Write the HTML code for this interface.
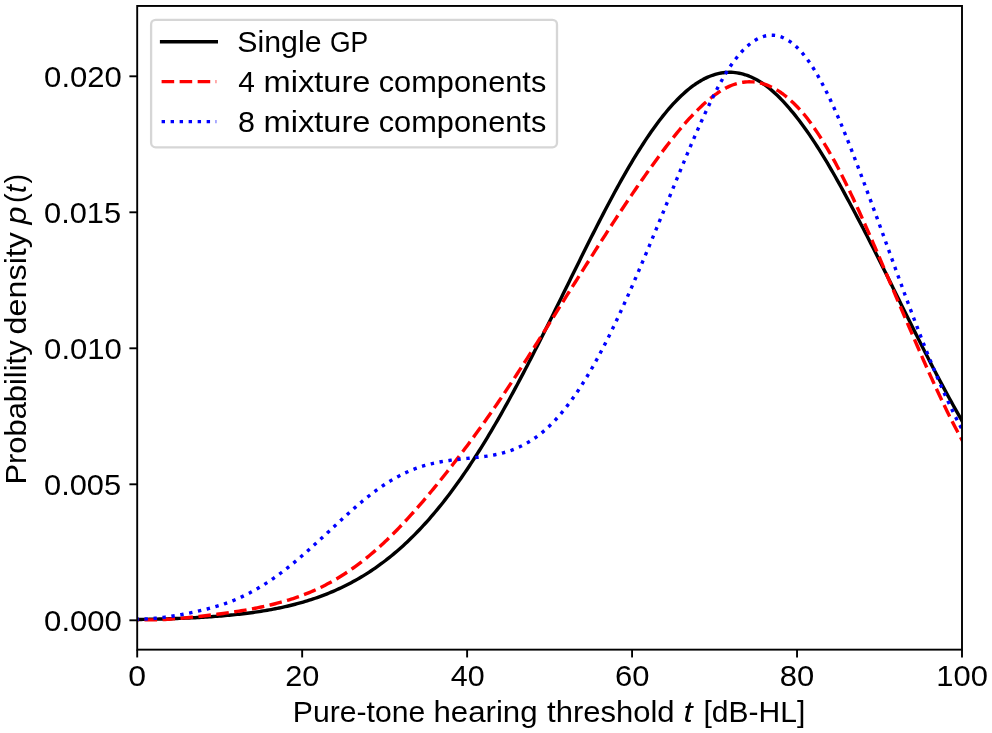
<!DOCTYPE html>
<html lang="en">
<head>
<meta charset="utf-8">
<title>Probability density of pure-tone hearing threshold</title>
<style>
html,body{margin:0;padding:0;background:#fff;}
body{width:992px;height:733px;overflow:hidden;}
svg{display:block;will-change:transform;}
text{font-family:"Liberation Sans",sans-serif;font-size:28.8px;fill:#000;}
.it{font-style:italic;}
.tk{font-size:29.2px;}
.curve{fill:none;stroke-width:3.4;stroke-linejoin:round;}
.tick{stroke:#000;stroke-width:1.9;}
</style>
</head>
<body>
<svg width="992" height="733" viewBox="0 0 992 733">
<rect x="0" y="0" width="992" height="733" fill="#fff"/>
<defs><clipPath id="ax"><rect x="137.2" y="5.95" width="824.80" height="643.70"/></clipPath></defs>
<!-- curves -->
<g clip-path="url(#ax)">
<path class="curve" stroke="#000" stroke-linecap="square" d="M126.5 619.53L137.2 619.53L139.2 619.49L141.2 619.46L143.2 619.42L145.2 619.38L147.2 619.34L149.2 619.30L151.2 619.25L153.2 619.21L155.2 619.16L157.2 619.11L159.2 619.06L161.2 619.00L163.2 618.94L165.2 618.89L167.2 618.83L169.2 618.76L171.2 618.70L173.2 618.63L175.2 618.56L177.2 618.48L179.2 618.41L181.2 618.33L183.2 618.24L185.2 618.16L187.2 618.07L189.2 617.98L191.2 617.88L193.2 617.78L195.2 617.68L197.2 617.57L199.2 617.46L201.2 617.35L203.2 617.23L205.2 617.11L207.2 616.98L209.2 616.85L211.2 616.71L213.2 616.57L215.2 616.42L217.2 616.27L219.2 616.11L221.2 615.95L223.2 615.78L225.2 615.61L227.2 615.43L229.2 615.24L231.2 615.05L233.2 614.85L235.2 614.64L237.2 614.43L239.2 614.21L241.2 613.98L243.2 613.75L245.2 613.51L247.2 613.25L249.2 613.00L251.2 612.73L253.2 612.45L255.2 612.17L257.2 611.88L259.2 611.57L261.2 611.26L263.2 610.94L265.2 610.61L267.2 610.27L269.2 609.91L271.2 609.55L273.2 609.18L275.2 608.79L277.2 608.39L279.2 607.99L281.2 607.56L283.2 607.13L285.2 606.68L287.2 606.22L289.2 605.75L291.2 605.27L293.2 604.77L295.2 604.25L297.2 603.72L299.2 603.18L301.2 602.62L303.2 602.04L305.2 601.45L307.2 600.85L309.2 600.22L311.2 599.58L313.2 598.93L315.2 598.25L317.2 597.56L319.2 596.85L321.2 596.12L323.2 595.37L325.2 594.60L327.2 593.81L329.2 593.00L331.2 592.18L333.2 591.33L335.2 590.46L337.2 589.57L339.2 588.65L341.2 587.72L343.2 586.76L345.2 585.78L347.2 584.77L349.2 583.74L351.2 582.69L353.2 581.61L355.2 580.51L357.2 579.38L359.2 578.23L361.2 577.05L363.2 575.84L365.2 574.61L367.2 573.35L369.2 572.06L371.2 570.75L373.2 569.41L375.2 568.03L377.2 566.63L379.2 565.20L381.2 563.74L383.2 562.25L385.2 560.73L387.2 559.18L389.2 557.60L391.2 555.99L393.2 554.34L395.2 552.67L397.2 550.96L399.2 549.22L401.2 547.44L403.2 545.64L405.2 543.80L407.2 541.92L409.2 540.01L411.2 538.07L413.2 536.09L415.2 534.08L417.2 532.04L419.2 529.96L421.2 527.84L423.2 525.69L425.2 523.50L427.2 521.28L429.2 519.02L431.2 516.72L433.2 514.39L435.2 512.02L437.2 509.62L439.2 507.18L441.2 504.70L443.2 502.19L445.2 499.64L447.2 497.05L449.2 494.43L451.2 491.77L453.2 489.07L455.2 486.34L457.2 483.57L459.2 480.77L461.2 477.93L463.2 475.05L465.2 472.13L467.2 469.18L469.2 466.20L471.2 463.18L473.2 460.12L475.2 457.03L477.2 453.90L479.2 450.74L481.2 447.55L483.2 444.32L485.2 441.06L487.2 437.76L489.2 434.44L491.2 431.08L493.2 427.68L495.2 424.26L497.2 420.81L499.2 417.32L501.2 413.81L503.2 410.26L505.2 406.69L507.2 403.09L509.2 399.46L511.2 395.80L513.2 392.12L515.2 388.41L517.2 384.68L519.2 380.92L521.2 377.14L523.2 373.34L525.2 369.51L527.2 365.66L529.2 361.80L531.2 357.91L533.2 354.01L535.2 350.08L537.2 346.14L539.2 342.19L541.2 338.22L543.2 334.23L545.2 330.24L547.2 326.23L549.2 322.21L551.2 318.18L553.2 314.14L555.2 310.10L557.2 306.04L559.2 301.99L561.2 297.92L563.2 293.86L565.2 289.79L567.2 285.73L569.2 281.66L571.2 277.60L573.2 273.54L575.2 269.48L577.2 265.43L579.2 261.39L581.2 257.35L583.2 253.32L585.2 249.31L587.2 245.31L589.2 241.32L591.2 237.34L593.2 233.38L595.2 229.44L597.2 225.52L599.2 221.62L601.2 217.74L603.2 213.88L605.2 210.05L607.2 206.25L609.2 202.47L611.2 198.72L613.2 194.99L615.2 191.31L617.2 187.65L619.2 184.03L621.2 180.44L623.2 176.89L625.2 173.38L627.2 169.91L629.2 166.48L631.2 163.09L633.2 159.74L635.2 156.44L637.2 153.19L639.2 149.98L641.2 146.82L643.2 143.72L645.2 140.66L647.2 137.66L649.2 134.71L651.2 131.81L653.2 128.98L655.2 126.20L657.2 123.47L659.2 120.81L661.2 118.21L663.2 115.67L665.2 113.20L667.2 110.78L669.2 108.44L671.2 106.16L673.2 103.94L675.2 101.80L677.2 99.72L679.2 97.71L681.2 95.78L683.2 93.91L685.2 92.12L687.2 90.40L689.2 88.76L691.2 87.19L693.2 85.70L695.2 84.28L697.2 82.94L699.2 81.67L701.2 80.48L703.2 79.38L705.2 78.35L707.2 77.40L709.2 76.53L711.2 75.74L713.2 75.03L715.2 74.40L717.2 73.85L719.2 73.38L721.2 73.00L723.2 72.69L725.2 72.47L727.2 72.33L729.2 72.28L731.2 72.30L733.2 72.41L735.2 72.60L737.2 72.87L739.2 73.22L741.2 73.65L743.2 74.17L745.2 74.76L747.2 75.44L749.2 76.20L751.2 77.04L753.2 77.95L755.2 78.95L757.2 80.03L759.2 81.18L761.2 82.43L763.2 83.77L765.2 85.19L767.2 86.69L769.2 88.26L771.2 89.92L773.2 91.65L775.2 93.45L777.2 95.34L779.2 97.30L781.2 99.33L783.2 101.43L785.2 103.61L787.2 105.86L789.2 108.17L791.2 110.53L793.2 112.94L795.2 115.41L797.2 117.94L799.2 120.54L801.2 123.19L803.2 125.91L805.2 128.68L807.2 131.51L809.2 134.40L811.2 137.35L813.2 140.34L815.2 143.39L817.2 146.50L819.2 149.65L821.2 152.85L823.2 156.10L825.2 159.39L827.2 162.73L829.2 166.12L831.2 169.55L833.2 173.01L835.2 176.52L837.2 180.07L839.2 183.65L841.2 187.27L843.2 190.92L845.2 194.61L847.2 198.32L849.2 202.07L851.2 205.81L853.2 209.55L855.2 213.31L857.2 217.10L859.2 220.91L861.2 224.74L863.2 228.59L865.2 232.46L867.2 236.34L869.2 240.25L871.2 244.16L873.2 248.09L875.2 252.04L877.2 255.99L879.2 259.95L881.2 263.93L883.2 267.90L885.2 271.90L887.2 275.96L889.2 280.02L891.2 284.08L893.2 288.15L895.2 292.22L897.2 296.28L899.2 300.34L901.2 304.40L903.2 308.46L905.2 312.51L907.2 316.55L909.2 320.58L911.2 324.60L913.2 328.62L915.2 332.62L917.2 336.61L919.2 340.58L921.2 344.55L923.2 348.49L925.2 352.42L927.2 356.33L929.2 360.23L931.2 364.10L933.2 367.96L935.2 371.79L937.2 375.61L939.2 379.40L941.2 383.16L943.2 386.91L945.2 390.62L947.2 394.32L949.2 397.98L951.2 401.62L953.2 405.24L955.2 408.82L957.2 412.38L959.2 415.90L961.2 419.40L962.0 420.79L973.0 439.88"/>
<path class="curve" stroke="#f00" stroke-dasharray="12.58 5.44" d="M126.5 619.60L137.2 619.60L139.2 619.69L141.2 619.76L143.2 619.81L145.2 619.85L147.2 619.87L149.2 619.88L151.2 619.87L153.2 619.85L155.2 619.81L157.2 619.76L159.2 619.69L161.2 619.62L163.2 619.53L165.2 619.43L167.2 619.31L169.2 619.19L171.2 619.06L173.2 618.92L175.2 618.77L177.2 618.61L179.2 618.44L181.2 618.26L183.2 618.08L185.2 617.89L187.2 617.69L189.2 617.49L191.2 617.28L193.2 617.07L195.2 616.86L197.2 616.64L199.2 616.41L201.2 616.19L203.2 615.96L205.2 615.73L207.2 615.49L209.2 615.25L211.2 615.01L213.2 614.76L215.2 614.51L217.2 614.26L219.2 614.00L221.2 613.73L223.2 613.46L225.2 613.19L227.2 612.91L229.2 612.62L231.2 612.32L233.2 612.02L235.2 611.72L237.2 611.40L239.2 611.08L241.2 610.75L243.2 610.41L245.2 610.07L247.2 609.72L249.2 609.35L251.2 608.98L253.2 608.60L255.2 608.22L257.2 607.82L259.2 607.41L261.2 606.99L263.2 606.56L265.2 606.12L267.2 605.67L269.2 605.21L271.2 604.73L273.2 604.24L275.2 603.74L277.2 603.22L279.2 602.69L281.2 602.14L283.2 601.58L285.2 601.00L287.2 600.41L289.2 599.79L291.2 599.16L293.2 598.51L295.2 597.84L297.2 597.15L299.2 596.44L301.2 595.71L303.2 594.96L305.2 594.19L307.2 593.39L309.2 592.57L311.2 591.73L313.2 590.87L315.2 589.98L317.2 589.06L319.2 588.12L321.2 587.16L323.2 586.16L325.2 585.14L327.2 584.10L329.2 583.02L331.2 581.92L333.2 580.80L335.2 579.64L337.2 578.46L339.2 577.25L341.2 576.01L343.2 574.75L345.2 573.46L347.2 572.14L349.2 570.79L351.2 569.41L353.2 568.01L355.2 566.57L357.2 565.11L359.2 563.62L361.2 562.10L363.2 560.55L365.2 558.97L367.2 557.36L369.2 555.73L371.2 554.06L373.2 552.36L375.2 550.64L377.2 548.88L379.2 547.09L381.2 545.28L383.2 543.43L385.2 541.55L387.2 539.65L389.2 537.72L391.2 535.75L393.2 533.77L395.2 531.75L397.2 529.71L399.2 527.64L401.2 525.55L403.2 523.43L405.2 521.29L407.2 519.13L409.2 516.94L411.2 514.73L413.2 512.50L415.2 510.25L417.2 507.97L419.2 505.68L421.2 503.36L423.2 501.03L425.2 498.68L427.2 496.31L429.2 493.92L431.2 491.52L433.2 489.10L435.2 486.66L437.2 484.21L439.2 481.74L441.2 479.26L443.2 476.76L445.2 474.25L447.2 471.73L449.2 469.19L451.2 466.64L453.2 464.07L455.2 461.49L457.2 458.89L459.2 456.28L461.2 453.65L463.2 451.01L465.2 448.35L467.2 445.68L469.2 442.99L471.2 440.29L473.2 437.57L475.2 434.84L477.2 432.09L479.2 429.32L481.2 426.54L483.2 423.74L485.2 420.93L487.2 418.10L489.2 415.26L491.2 412.40L493.2 409.52L495.2 406.62L497.2 403.71L499.2 400.79L501.2 397.84L503.2 394.88L505.2 391.91L507.2 388.92L509.2 385.91L511.2 382.89L513.2 379.86L515.2 376.81L517.2 373.75L519.2 370.68L521.2 367.60L523.2 364.51L525.2 361.41L527.2 358.30L529.2 355.18L531.2 352.05L533.2 348.91L535.2 345.77L537.2 342.62L539.2 339.46L541.2 336.30L543.2 333.14L545.2 329.96L547.2 326.79L549.2 323.61L551.2 320.43L553.2 317.25L555.2 314.07L557.2 310.88L559.2 307.70L561.2 304.51L563.2 301.33L565.2 298.14L567.2 294.96L569.2 291.78L571.2 288.60L573.2 285.42L575.2 282.25L577.2 279.08L579.2 275.91L581.2 272.74L583.2 269.57L585.2 266.41L587.2 263.26L589.2 260.11L591.2 256.96L593.2 253.81L595.2 250.67L597.2 247.54L599.2 244.41L601.2 241.29L603.2 238.17L605.2 235.06L607.2 231.95L609.2 228.85L611.2 225.76L613.2 222.68L615.2 219.60L617.2 216.53L619.2 213.46L621.2 210.44L623.2 207.45L625.2 204.47L627.2 201.49L629.2 198.53L631.2 195.59L633.2 192.65L635.2 189.73L637.2 186.83L639.2 183.94L641.2 181.07L643.2 178.21L645.2 175.38L647.2 172.56L649.2 169.77L651.2 166.97L653.2 164.17L655.2 161.39L657.2 158.63L659.2 155.91L661.2 153.21L663.2 150.53L665.2 147.89L667.2 145.27L669.2 142.69L671.2 140.13L673.2 137.61L675.2 135.12L677.2 132.67L679.2 130.25L681.2 127.87L683.2 125.52L685.2 123.22L687.2 120.95L689.2 118.73L691.2 116.55L693.2 114.43L695.2 112.35L697.2 110.32L699.2 108.34L701.2 106.42L703.2 104.56L705.2 102.75L707.2 101.01L709.2 99.33L711.2 97.71L713.2 96.16L715.2 94.68L717.2 93.27L719.2 91.93L721.2 90.66L723.2 89.48L725.2 88.37L727.2 87.34L729.2 86.39L731.2 85.52L733.2 84.74L735.2 84.05L737.2 83.45L739.2 82.94L741.2 82.53L743.2 82.21L745.2 81.98L747.2 81.85L749.2 81.81L751.2 81.83L753.2 81.92L755.2 82.11L757.2 82.39L759.2 82.76L761.2 83.23L763.2 83.78L765.2 84.44L767.2 85.18L769.2 86.02L771.2 86.94L773.2 87.92L775.2 89.00L777.2 90.16L779.2 91.40L781.2 92.76L783.2 94.23L785.2 95.78L787.2 97.41L789.2 99.14L791.2 100.93L793.2 102.80L795.2 104.75L797.2 106.78L799.2 108.89L801.2 111.09L803.2 113.37L805.2 115.74L807.2 118.31L809.2 120.96L811.2 123.69L813.2 126.51L815.2 129.41L817.2 132.38L819.2 135.44L821.2 138.57L823.2 141.77L825.2 145.04L827.2 148.39L829.2 151.80L831.2 155.28L833.2 158.82L835.2 162.44L837.2 166.22L839.2 170.07L841.2 173.97L843.2 177.94L845.2 181.96L847.2 186.04L849.2 190.17L851.2 194.36L853.2 198.59L855.2 202.87L857.2 207.19L859.2 211.55L861.2 215.95L863.2 220.39L865.2 224.87L867.2 229.38L869.2 233.93L871.2 238.49L873.2 243.07L875.2 247.68L877.2 252.31L879.2 256.97L881.2 261.64L883.2 266.34L885.2 271.05L887.2 275.77L889.2 280.51L891.2 285.21L893.2 289.87L895.2 294.54L897.2 299.21L899.2 303.89L901.2 308.57L903.2 313.24L905.2 317.91L907.2 322.58L909.2 327.24L911.2 331.88L913.2 336.52L915.2 341.14L917.2 345.75L919.2 350.34L921.2 354.91L923.2 359.46L925.2 363.98L927.2 368.48L929.2 372.95L931.2 377.38L933.2 381.79L935.2 386.15L937.2 390.48L939.2 394.76L941.2 399.00L943.2 403.20L945.2 407.34L947.2 411.43L949.2 415.47L951.2 419.46L953.2 423.38L955.2 427.24L957.2 431.04L959.2 434.77L961.2 438.43L962.0 439.88L973.0 459.67"/>
<path class="curve" stroke="#00f" stroke-dasharray="3.40 5.61" d="M126.5 619.25L137.2 619.25L139.2 619.22L141.2 619.17L143.2 619.10L145.2 619.01L147.2 618.90L149.2 618.77L151.2 618.62L153.2 618.46L155.2 618.28L157.2 618.08L159.2 617.87L161.2 617.64L163.2 617.40L165.2 617.14L167.2 616.86L169.2 616.58L171.2 616.28L173.2 615.96L175.2 615.64L177.2 615.30L179.2 614.95L181.2 614.59L183.2 614.22L185.2 613.84L187.2 613.45L189.2 613.05L191.2 612.64L193.2 612.22L195.2 611.80L197.2 611.36L199.2 610.91L201.2 610.45L203.2 609.97L205.2 609.48L207.2 608.98L209.2 608.45L211.2 607.91L213.2 607.36L215.2 606.78L217.2 606.18L219.2 605.56L221.2 604.92L223.2 604.26L225.2 603.57L227.2 602.85L229.2 602.11L231.2 601.35L233.2 600.55L235.2 599.73L237.2 598.88L239.2 597.99L241.2 597.08L243.2 596.14L245.2 595.17L247.2 594.17L249.2 593.14L251.2 592.08L253.2 590.99L255.2 589.87L257.2 588.73L259.2 587.55L261.2 586.35L263.2 585.12L265.2 583.86L267.2 582.57L269.2 581.25L271.2 579.90L273.2 578.53L275.2 577.12L277.2 575.69L279.2 574.23L281.2 572.75L283.2 571.23L285.2 569.69L287.2 568.12L289.2 566.53L291.2 564.92L293.2 563.28L295.2 561.63L297.2 559.95L299.2 558.25L301.2 556.54L303.2 554.80L305.2 553.05L307.2 551.29L309.2 549.51L311.2 547.72L313.2 545.92L315.2 544.10L317.2 542.28L319.2 540.44L321.2 538.60L323.2 536.75L325.2 534.90L327.2 533.04L329.2 531.17L331.2 529.31L333.2 527.44L335.2 525.58L337.2 523.71L339.2 521.86L341.2 520.01L343.2 518.17L345.2 516.34L347.2 514.51L349.2 512.71L351.2 510.91L353.2 509.14L355.2 507.38L357.2 505.64L359.2 503.92L361.2 502.23L363.2 500.56L365.2 498.91L367.2 497.30L369.2 495.71L371.2 494.16L373.2 492.63L375.2 491.14L377.2 489.68L379.2 488.26L381.2 486.87L383.2 485.51L385.2 484.19L387.2 482.90L389.2 481.64L391.2 480.42L393.2 479.24L395.2 478.09L397.2 476.98L399.2 475.90L401.2 474.86L403.2 473.86L405.2 472.90L407.2 471.97L409.2 471.08L411.2 470.23L413.2 469.42L415.2 468.65L417.2 467.92L419.2 467.23L421.2 466.57L423.2 465.95L425.2 465.36L427.2 464.81L429.2 464.28L431.2 463.79L433.2 463.32L435.2 462.88L437.2 462.47L439.2 462.08L441.2 461.72L443.2 461.37L445.2 461.05L447.2 460.74L449.2 460.46L451.2 460.19L453.2 459.93L455.2 459.69L457.2 459.46L459.2 459.24L461.2 459.02L463.2 458.82L465.2 458.62L467.2 458.43L469.2 458.23L471.2 458.03L473.2 457.83L475.2 457.62L477.2 457.41L479.2 457.18L481.2 456.94L483.2 456.69L485.2 456.42L487.2 456.13L489.2 455.81L491.2 455.48L493.2 455.11L495.2 454.72L497.2 454.30L499.2 453.84L501.2 453.35L503.2 452.82L505.2 452.25L507.2 451.64L509.2 450.99L511.2 450.29L513.2 449.54L515.2 448.75L517.2 447.90L519.2 447.01L521.2 446.06L523.2 445.05L525.2 443.99L527.2 442.87L529.2 441.69L531.2 440.45L533.2 439.14L535.2 437.77L537.2 436.33L539.2 434.83L541.2 433.25L543.2 431.61L545.2 429.89L547.2 428.09L549.2 426.22L551.2 424.27L553.2 422.25L555.2 420.14L557.2 417.96L559.2 415.70L561.2 413.36L563.2 410.95L565.2 408.46L567.2 405.90L569.2 403.26L571.2 400.55L573.2 397.77L575.2 394.91L577.2 391.98L579.2 388.98L581.2 385.90L583.2 382.75L585.2 379.54L587.2 376.25L589.2 372.89L591.2 369.47L593.2 365.97L595.2 362.41L597.2 358.78L599.2 355.08L601.2 351.32L603.2 347.50L605.2 343.61L607.2 339.67L609.2 335.66L611.2 331.60L613.2 327.49L615.2 323.32L617.2 319.10L619.2 314.83L621.2 310.51L623.2 306.14L625.2 301.73L627.2 297.27L629.2 292.77L631.2 288.24L633.2 283.66L635.2 279.04L637.2 274.39L639.2 269.71L641.2 265.02L643.2 260.32L645.2 255.59L647.2 250.84L649.2 246.07L651.2 241.27L653.2 236.46L655.2 231.64L657.2 226.80L659.2 221.95L661.2 217.09L663.2 212.23L665.2 207.37L667.2 202.51L669.2 197.65L671.2 192.77L673.2 187.87L675.2 182.99L677.2 178.12L679.2 173.26L681.2 168.43L683.2 163.61L685.2 158.82L687.2 154.05L689.2 149.32L691.2 144.62L693.2 139.96L695.2 135.34L697.2 130.78L699.2 126.27L701.2 121.82L703.2 117.43L705.2 113.12L707.2 108.88L709.2 104.71L711.2 100.60L713.2 96.54L715.2 92.59L717.2 88.74L719.2 84.99L721.2 81.35L723.2 77.83L725.2 74.43L727.2 71.16L729.2 68.02L731.2 65.04L733.2 62.21L735.2 59.52L737.2 56.96L739.2 54.55L741.2 52.26L743.2 50.12L745.2 48.12L747.2 46.26L749.2 44.54L751.2 42.96L753.2 41.53L755.2 40.23L757.2 39.09L759.2 38.09L761.2 37.23L763.2 36.53L765.2 35.97L767.2 35.56L769.2 35.30L771.2 35.19L773.2 35.24L775.2 35.43L777.2 35.78L779.2 36.28L781.2 36.94L783.2 37.74L785.2 38.70L787.2 39.81L789.2 41.06L791.2 42.47L793.2 44.02L795.2 45.73L797.2 47.58L799.2 49.58L801.2 51.75L803.2 54.07L805.2 56.55L807.2 59.18L809.2 61.96L811.2 64.88L813.2 67.96L815.2 71.18L817.2 74.55L819.2 78.06L821.2 81.68L823.2 85.43L825.2 89.30L827.2 93.30L829.2 97.42L831.2 101.66L833.2 106.01L835.2 110.46L837.2 115.02L839.2 119.67L841.2 124.41L843.2 129.23L845.2 134.14L847.2 139.11L849.2 144.16L851.2 149.24L853.2 154.35L855.2 159.52L857.2 164.74L859.2 169.99L861.2 175.29L863.2 180.61L865.2 185.96L867.2 191.34L869.2 196.73L871.2 202.14L873.2 207.57L875.2 213.00L877.2 218.45L879.2 223.91L881.2 229.41L883.2 234.93L885.2 240.46L887.2 245.98L889.2 251.50L891.2 257.02L893.2 262.53L895.2 268.03L897.2 273.52L899.2 278.99L901.2 284.45L903.2 289.89L905.2 295.30L907.2 300.70L909.2 306.06L911.2 311.40L913.2 316.71L915.2 321.99L917.2 327.22L919.2 332.42L921.2 337.58L923.2 342.70L925.2 347.76L927.2 352.78L929.2 357.74L931.2 362.65L933.2 367.50L935.2 372.29L937.2 377.02L939.2 381.68L941.2 386.27L943.2 390.79L945.2 395.24L947.2 399.61L949.2 403.90L951.2 408.10L953.2 412.22L955.2 416.26L957.2 420.20L959.2 424.05L961.2 427.80L962.0 429.27L973.0 449.42"/>
</g>
<!-- axes frame and ticks -->
<rect x="137.2" y="5.95" width="824.80" height="643.70" fill="none" stroke="#000" stroke-width="1.9"/>
<line class="tick" x1="137.20" y1="649.65" x2="137.20" y2="657.4499999999999"/>
<line class="tick" x1="302.16" y1="649.65" x2="302.16" y2="657.4499999999999"/>
<line class="tick" x1="467.12" y1="649.65" x2="467.12" y2="657.4499999999999"/>
<line class="tick" x1="632.08" y1="649.65" x2="632.08" y2="657.4499999999999"/>
<line class="tick" x1="797.04" y1="649.65" x2="797.04" y2="657.4499999999999"/>
<line class="tick" x1="962.00" y1="649.65" x2="962.00" y2="657.4499999999999"/>
<line class="tick" x1="137.2" y1="620.30" x2="129.39999999999998" y2="620.30"/>
<line class="tick" x1="137.2" y1="484.30" x2="129.39999999999998" y2="484.30"/>
<line class="tick" x1="137.2" y1="348.30" x2="129.39999999999998" y2="348.30"/>
<line class="tick" x1="137.2" y1="212.30" x2="129.39999999999998" y2="212.30"/>
<line class="tick" x1="137.2" y1="76.30" x2="129.39999999999998" y2="76.30"/>
<!-- legend -->
<rect x="151.1" y="19.8" width="405.9" height="127.6" rx="4.6" ry="4.6" fill="#fff" fill-opacity="0.8" stroke="#ccc" stroke-opacity="0.8" stroke-width="2.29"/>
<line x1="161.6" y1="41.7" x2="216.3" y2="41.7" stroke="#000" stroke-width="3.4" stroke-linecap="square"/>
<line x1="161.6" y1="81.6" x2="216.3" y2="81.6" stroke="#f00" stroke-width="3.4" stroke-dasharray="12.58 5.44"/>
<line x1="161.6" y1="121.6" x2="216.3" y2="121.6" stroke="#00f" stroke-width="3.4" stroke-dasharray="3.40 5.61"/>
<!-- text -->
<text>
<tspan x="237.32" y="51.5" textLength="84.24" lengthAdjust="spacingAndGlyphs">Single</tspan> <tspan x="330.00" y="51.5" textLength="38.27" lengthAdjust="spacingAndGlyphs">GP</tspan>
</text>
<text>
<tspan x="238.35" y="91.6" textLength="16.62" lengthAdjust="spacingAndGlyphs">4</tspan> <tspan x="263.60" y="91.6" textLength="106.85" lengthAdjust="spacingAndGlyphs">mixture</tspan> <tspan x="378.74" y="91.6" textLength="167.55" lengthAdjust="spacingAndGlyphs">components</tspan>
</text>
<text>
<tspan x="238.05" y="131.8" textLength="16.95" lengthAdjust="spacingAndGlyphs">8</tspan> <tspan x="263.60" y="131.8" textLength="106.85" lengthAdjust="spacingAndGlyphs">mixture</tspan> <tspan x="378.74" y="131.8" textLength="167.55" lengthAdjust="spacingAndGlyphs">components</tspan>
</text>
<text>
<tspan x="292.89" y="721.5" textLength="132.34" lengthAdjust="spacingAndGlyphs">Pure-tone</tspan> <tspan x="433.45" y="721.5" textLength="104.15" lengthAdjust="spacingAndGlyphs">hearing</tspan> <tspan x="547.05" y="721.5" textLength="127.56" lengthAdjust="spacingAndGlyphs">threshold</tspan> <tspan class="it" x="683.40" y="721.5" textLength="9.20" lengthAdjust="spacingAndGlyphs">t</tspan> <tspan x="703.51" y="721.5" textLength="101.80" lengthAdjust="spacingAndGlyphs">[dB-HL]</tspan>
</text>
<text transform="translate(25.9 484.0) rotate(-90)">
<tspan x="-0.64" y="0" textLength="144.26" lengthAdjust="spacingAndGlyphs">Probability</tspan> <tspan x="149.64" y="0" textLength="102.37" lengthAdjust="spacingAndGlyphs">density</tspan> <tspan class="it" x="259.60" y="0" textLength="18.00" lengthAdjust="spacingAndGlyphs">p</tspan><tspan x="281.00" y="0">(</tspan><tspan class="it" x="291.00" y="0">t</tspan><tspan x="300.50" y="0">)</tspan>
</text>
<text class="tk">
<tspan x="128.29" y="685.7" textLength="17.78" lengthAdjust="spacingAndGlyphs">0</tspan>
</text>
<text class="tk">
<tspan x="285.30" y="685.7" textLength="34.16" lengthAdjust="spacingAndGlyphs">20</tspan>
</text>
<text class="tk">
<tspan x="450.84" y="685.7" textLength="33.87" lengthAdjust="spacingAndGlyphs">40</tspan>
</text>
<text class="tk">
<tspan x="615.09" y="685.7" textLength="34.42" lengthAdjust="spacingAndGlyphs">60</tspan>
</text>
<text class="tk">
<tspan x="779.68" y="685.7" textLength="34.45" lengthAdjust="spacingAndGlyphs">80</tspan>
</text>
<text class="tk">
<tspan x="936.22" y="685.7" textLength="51.62" lengthAdjust="spacingAndGlyphs">100</tspan>
</text>
<text class="tk">
<tspan x="44.12" y="631.3" textLength="77.72" lengthAdjust="spacingAndGlyphs">0.000</tspan>
</text>
<text class="tk">
<tspan x="44.02" y="495.3" textLength="77.04" lengthAdjust="spacingAndGlyphs">0.005</tspan>
</text>
<text class="tk">
<tspan x="44.12" y="359.3" textLength="77.72" lengthAdjust="spacingAndGlyphs">0.010</tspan>
</text>
<text class="tk">
<tspan x="44.02" y="223.3" textLength="77.04" lengthAdjust="spacingAndGlyphs">0.015</tspan>
</text>
<text class="tk">
<tspan x="44.12" y="87.3" textLength="77.72" lengthAdjust="spacingAndGlyphs">0.020</tspan>
</text>
</svg>
</body>
</html>
